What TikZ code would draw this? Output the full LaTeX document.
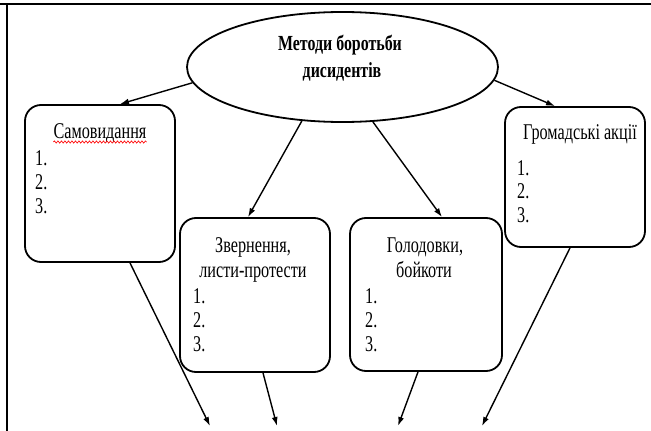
\documentclass[tikz,border=0pt]{standalone}
\usepackage{fontspec}
\setmainfont{Liberation Serif}
\newfontfamily\cond[FakeStretch=0.72]{Liberation Serif}
\newfontfamily\condb[FakeStretch=0.74]{Liberation Serif}
\usetikzlibrary{arrows.meta,shapes.geometric,decorations.pathmorphing,calc}
\begin{document}
\begin{tikzpicture}[x=1pt,y=-1pt,
  box/.style={draw, line width=1.8pt, rounded corners=16pt, inner sep=0pt},
  conn/.style={line width=1.4pt, -{Latex[length=9pt,width=6pt]}},
  ttl/.style={inner sep=0pt, anchor=base, font=\cond\fontsize{22.5}{24}\selectfont},
  item/.style={inner sep=0pt, anchor=base west, font=\cond\fontsize{22.5}{24}\selectfont},
  etxt/.style={inner sep=0pt, anchor=base, font=\condb\bfseries\fontsize{21.5}{24}\selectfont}]
\useasboundingbox (0,0) rectangle (651,431);
% table frame
\draw[line width=1.2pt] (0,4) -- (651,4);
\draw[line width=2.4pt] (0,4) -- (22,4);
\draw[line width=2.5pt] (7,3) -- (7,431);
% ellipse
\node[draw, ellipse, line width=1.8pt, minimum width=311pt, minimum height=110pt, inner sep=0pt] (ell) at (342.5,67) {};
\node[etxt] (et1) at (340,50) {Методи боротьби};
\node[etxt] (et2) at (342,77) {дисидентів};
% boxes
\node[box, minimum width=150pt, minimum height=157pt] (b1) at (100,183.5) {};
\node[box, minimum width=150pt, minimum height=154pt] (b2) at (255,295) {};
\node[box, minimum width=152pt, minimum height=153pt] (b3) at (426,294.5) {};
\node[box, minimum width=140pt, minimum height=140pt] (b4) at (575,177) {};
% box 1
\node[ttl] (t1) at (100,138) {Самовидання};
\draw[red, line width=0.6pt, decorate, decoration={snake, amplitude=1.1pt, segment length=3.5pt}]
  ($(t1.base west)+(0,4)$) -- ($(t1.base east)+(0,4)$);
\node[item] (i11) at (35,165) {1.};
\node[item] (i12) at (35,189) {2.};
\node[item] (i13) at (35,213) {3.};
% box 2
\node[ttl] (t2a) at (253,252) {Звернення,};
\node[ttl] (t2b) at (253,277) {листи-протести};
\node[item] (i21) at (193,303) {1.};
\node[item] (i22) at (193,327) {2.};
\node[item] (i23) at (193,351) {3.};
% box 3
\node[ttl] (t3a) at (425,252) {Голодовки,};
\node[ttl] (t3b) at (424,277) {бойкоти};
\node[item] (i31) at (365,303) {1.};
\node[item] (i32) at (365,327) {2.};
\node[item] (i33) at (365,351) {3.};
% box 4
\node[ttl] (t4) at (580,139) {Громадські акції};
\node[item] (i41) at (517,175) {1.};
\node[item] (i42) at (517,198) {2.};
\node[item] (i43) at (517,222) {3.};
% free ends
\coordinate (e1) at (210,426);
\coordinate (e2) at (277,426);
\coordinate (e3) at (398,426);
\coordinate (e4) at (482,426);
% connectors
\draw[conn] (ell.186) -- ([xshift=20pt]b1.north);
\draw[conn] (ell.233) -- ([xshift=-7pt]b2.north);
\draw[conn] (ell.299) -- ([xshift=16pt]b3.north);
\draw[conn] (ell.355) -- ([xshift=-20pt]b4.north);
\draw[conn] ([xshift=30pt]b1.south) -- (e1);
\draw[conn] ([xshift=8pt]b2.south) -- (e2);
\draw[conn] ([xshift=-8pt]b3.south) -- (e3);
\draw[conn] ([xshift=-5pt]b4.south) -- (e4);
\end{tikzpicture}
\end{document}
